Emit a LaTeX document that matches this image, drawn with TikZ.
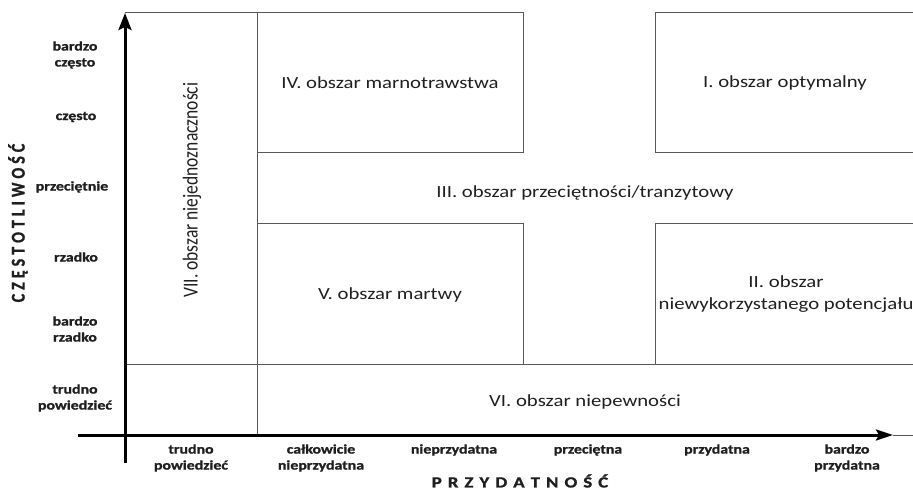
\documentclass[tikz,border=0pt]{standalone}
\usepackage{fontspec}
\usepackage{graphicx}
\setmainfont{Carlito}[FakeStretch=1.22,BoldFont={Carlito Bold},BoldFeatures={FakeStretch=1.22,FakeBold=1.2}]
\newfontfamily\uprightfont{Carlito}[BoldFont={Carlito Bold},BoldFeatures={FakeBold=1.2}]
\usetikzlibrary{arrows.meta}

% letter-spaced axis titles
\newcommand{\lsv}{\kern4pt}
\newcommand{\lsh}{\kern6pt}

\begin{document}
\begin{tikzpicture}[x=1pt,y=-1pt,
  grid/.style={draw=black!65,line width=1pt},
  axis/.style={line width=3pt,black},
  region/.style={font=\fontsize{17}{22}\selectfont,text=black!88,align=center,inner sep=0pt},
  tick/.style={font=\fontsize{13}{16}\selectfont\bfseries,text=black!88,align=center,inner sep=0pt},
]
\useasboundingbox (0,0) rectangle (913,492);

% frame lines of the regions
\draw[grid] (125,13) -- (523,13) -- (523,153) -- (257,153);
\draw[grid] (257,13) -- (257,435);
\draw[grid] (913,13) -- (655,13) -- (655,153) -- (913,153);
\draw[grid] (257,223) -- (523,223) -- (523,364);
\draw[grid] (655,364) -- (655,223) -- (913,223);
\draw[grid] (125,364) -- (913,364);

% axes
\coordinate (yfoot) at (125,463);
\coordinate (ytip) at (125,13);
\coordinate (xfoot) at (78,435);
\coordinate (xtip) at (893,435);
\coordinate (xend) at (913,435);
\draw[axis,-{Stealth[length=17pt,width=13pt,inset=3pt]}] (yfoot) -- (ytip);
\draw[axis,-{Stealth[length=17pt,width=11pt,inset=3pt]}] (xfoot) -- (xtip);
\draw[grid] (xtip) -- (xend);

% region names
\node[region] (r4) at (390,83) {IV. obszar marnotrawstwa};
\node[region] (r1) at (785,83) {I. obszar optymalny};
\node[region] (r3) at (585,193) {III. obszar przeciętności/tranzytowy};
\node[region] (r5) at (390,295) {V. obszar martwy};
\node[region] (r2) at (786,294) {II. obszar\\niewykorzystanego potencjału};
\node[region] (r6) at (585,402) {VI. obszar niepewności};
\node[region,rotate=90] (r7) at (192,190)
  {\scalebox{1}[1.22]{\uprightfont\fontsize{17.5}{22}\selectfont VII. obszar niejednoznaczności}};

% frequency scale
\node[tick] (f1) at (75,55) {bardzo\\często};
\node[tick] (f2) at (76,117) {często};
\node[tick] (f3) at (72,187) {przeciętnie};
\node[tick] (f4) at (76,257) {rzadko};
\node[tick] (f5) at (75,329) {bardzo\\rzadko};
\node[tick] (f6) at (75,398) {trudno\\powiedzieć};
\node[tick,rotate=90] (fy) at (18,223)
  {\scalebox{1}[1.22]{\uprightfont\bfseries\fontsize{16}{18}\selectfont C\lsv Z\lsv Ę\lsv S\lsv T\lsv O\lsv T\lsv L\lsv I\lsv W\lsv O\lsv Ś\lsv Ć}};

% usefulness scale
\node[tick] (u1) at (191,458) {trudno\\powiedzieć};
\node[tick] (u2) at (321,458) {całkowicie\\nieprzydatna};
\node[tick] (u3) at (454,450) {nieprzydatna};
\node[tick] (u4) at (588,450) {przeciętna};
\node[tick] (u5) at (717,450) {przydatna};
\node[tick] (u6) at (847,458) {bardzo\\przydatna};
\node[tick,font=\fontsize{15.5}{18}\selectfont\bfseries] (ux) at (520,481) {P\lsh R\lsh Z\lsh Y\lsh D\lsh A\lsh T\lsh N\lsh O\lsh Ś\lsh Ć};
\end{tikzpicture}
\end{document}
